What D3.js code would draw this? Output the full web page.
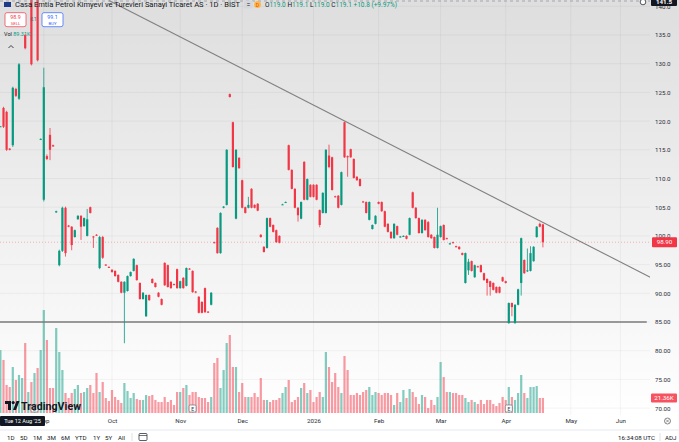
<!DOCTYPE html>
<html><head><meta charset="utf-8">
<script src="https://cdn.jsdelivr.net/npm/d3@7"></script>
<style>html,body{margin:0;padding:0;background:#fff;overflow:hidden}svg{display:block;font-family:Roboto,"Noto Sans",sans-serif}</style>
</head><body><svg id="c" width="679" height="442"></svg>
<script>
// ---------- DATA ----------
const opens=[119.0,122.3,121.6,115.2,115.8,125.6,123.9,141.5,135.0,142.5,
145.0,142.0,143.0,116.8,106.3,113.9,117.6,115.8,104.1,94.9,
97.4,104.9,101.8,101.6,99.8,102.9,103.5,101.7,100.0,105.0,
99.9,100.2,94.4,99.8,95.0,94.6,94.1,93.9,93.2,92.0,
90.1,90.4,93.0,93.9,94.9,91.8,89.0,86.0,89.7,92.5,
91.8,90.1,89.0,95.3,94.9,92.0,91.6,94.2,90.9,92.7,
91.3,94.3,93.9,90.3,89.4,88.5,90.9,86.8,88.0,98.9,
101.4,97.0,104.9,105.4,124.7,119.8,103.0,113.6,109.7,105.0,
104.9,108.2,105.4,105.6,100.2,98.1,97.9,103.1,101.9,101.0,
100.0,105.4,105.9,115.8,111.5,108.2,104.9,103.0,112.9,106.3,
108.9,108.9,108.9,104.5,104.0,104.0,114.0,113.7,106.9,107.0,
105.4,119.8,113.9,115.1,113.4,110.3,109.9,106.0,105.9,102.8,
101.2,102.1,105.9,105.9,104.3,102.1,100.7,99.6,101.7,99.8,
99.9,100.0,100.2,107.6,104.9,103.1,100.5,102.8,102.4,100.2,
99.8,97.9,99.8,101.9,99.6,98.6,98.9,98.2,98.1,97.0,
91.8,94.0,95.6,92.8,94.7,94.9,93.5,92.5,92.1,91.8,
91.1,91.1,92.8,92.1,84.8,88.3,84.8,88.0,91.8,95.8,
93.9,93.9,95.6,99.8,102.1,102.0];
const highs=[119.1,122.5,121.8,115.3,126.0,125.8,130.1,143.5,135.2,145.0,
146.0,143.5,144.0,117.0,129.3,114.2,118.8,115.9,104.4,97.6,
105.1,105.1,101.9,101.7,101.1,103.6,103.6,103.2,104.7,105.1,
100.0,100.3,100.0,100.0,95.1,94.7,94.2,94.0,93.3,92.1,
92.1,93.1,93.8,96.1,95.0,91.9,90.2,89.8,89.8,92.6,
91.9,90.2,89.1,95.4,95.0,92.1,91.7,94.3,92.2,92.8,
94.5,94.4,94.0,90.4,89.5,88.6,91.0,86.9,90.2,99.0,
101.5,104.1,105.2,115.1,124.8,119.9,115.1,113.7,109.8,105.1,
106.8,108.3,105.5,105.7,100.3,98.2,103.2,103.2,102.0,101.1,
100.1,105.6,106.0,115.9,111.6,108.3,105.0,106.0,113.0,110.0,
109.0,109.0,109.0,104.6,107.6,115.1,115.9,113.8,107.0,107.1,
111.2,119.9,114.0,115.2,113.5,110.4,110.0,106.1,106.0,106.0,
102.0,103.6,106.0,106.0,104.4,102.2,100.8,102.2,101.8,100.0,
100.1,100.1,103.2,107.7,105.0,103.2,102.9,102.9,102.6,100.3,
99.9,104.9,101.8,102.0,99.7,98.8,99.0,98.3,98.2,97.1,
97.1,96.0,95.7,95.0,94.8,95.0,93.6,92.6,92.2,91.9,
91.2,91.2,92.9,92.2,88.4,88.4,88.1,90.8,99.7,95.9,
97.8,98.2,98.2,101.7,102.3,102.1];
const lows=[119.0,118.8,114.8,114.9,115.5,124.2,123.7,141.3,132.5,142.0,
129.7,141.5,130.4,116.7,106.0,113.2,113.2,115.5,104.0,94.7,
97.2,96.4,101.5,97.5,99.7,102.8,99.3,101.6,99.9,103.9,
97.9,100.0,94.2,96.0,94.8,94.4,93.6,92.9,91.9,90.0,
81.3,90.3,92.9,93.8,92.2,88.9,88.9,85.9,88.7,91.7,
91.0,89.3,87.9,91.3,91.0,90.8,91.4,90.8,90.8,90.8,
91.2,94.1,90.1,90.0,86.5,86.5,86.6,86.6,87.9,98.7,
96.9,96.9,104.8,105.3,124.1,111.9,102.9,111.7,104.8,103.9,
104.8,104.8,104.8,104.3,99.7,97.1,97.8,101.5,100.6,98.8,
98.7,105.4,105.8,111.4,108.1,104.8,102.5,102.9,106.2,106.2,
106.7,106.7,106.2,101.5,103.9,103.9,111.8,107.9,106.7,104.8,
105.3,113.6,110.3,113.6,110.0,109.6,108.6,105.8,103.9,102.7,
101.1,102.0,105.5,104.2,101.5,100.6,99.5,99.5,100.1,99.7,
99.8,99.4,100.1,104.8,103.0,100.4,100.4,100.9,99.7,99.5,
97.8,97.8,99.7,99.2,99.4,98.5,98.7,98.0,97.6,96.6,
91.7,93.2,93.8,92.7,94.5,93.6,92.2,89.6,89.6,90.5,
90.0,90.0,92.0,91.7,84.7,86.0,84.7,87.9,89.6,93.4,
93.7,93.8,95.5,99.7,101.5,98.0];
const closes=[119.1,119.0,115.0,115.0,125.8,124.4,129.9,143.0,132.7,144.0,
129.9,143.0,130.6,116.9,125.9,113.4,115.0,115.6,104.3,97.4,
104.9,97.0,101.6,98.4,101.0,103.5,101.6,103.1,102.9,104.0,
99.8,100.1,99.8,96.2,94.9,94.5,93.7,93.0,92.0,90.1,
92.0,93.0,93.7,96.0,92.3,89.0,90.1,89.7,88.8,91.8,
91.1,89.4,88.0,91.4,91.1,90.9,91.5,90.9,92.1,90.9,
94.4,94.2,90.2,90.2,86.6,86.6,86.7,86.7,90.1,98.8,
97.0,104.0,105.1,115.0,124.2,112.0,115.0,111.8,104.9,104.0,
105.4,104.9,104.9,104.4,99.8,97.2,103.1,101.6,100.7,98.9,
98.8,105.5,105.9,111.5,108.2,104.9,103.6,105.9,106.3,109.9,
106.8,106.8,106.3,101.9,107.5,115.0,112.0,108.0,106.8,104.9,
111.1,113.7,113.7,113.7,110.1,109.7,108.7,105.9,104.0,105.9,
101.9,103.5,105.6,104.3,101.6,100.7,99.6,102.1,100.2,99.9,
100.0,99.5,103.1,104.9,103.1,100.5,102.8,101.0,99.8,99.6,
97.9,100.2,101.7,99.3,99.5,98.7,98.8,98.1,97.7,96.7,
97.0,95.5,93.9,94.9,94.6,93.7,92.3,91.8,91.1,90.6,
90.1,90.1,92.1,91.8,88.3,87.6,88.0,90.7,99.6,93.5,
94.0,97.0,98.1,101.6,101.6,98.9];
const volumesK=[89.31,75.3,39.8,36.9,65.3,46.9,54.0,49.7,99.4,29.8,
44.0,56.8,63.9,89.5,146.3,103.7,35.5,35.5,120.7,86.6,
61.1,28.4,21.3,28.4,34.1,39.8,28.4,29.8,35.5,39.8,
28.4,56.8,29.8,44.0,21.3,17.0,32.7,22.7,18.5,14.2,
42.6,31.2,21.3,28.4,19.9,18.5,18.5,25.6,24.1,25.6,
18.5,15.6,15.6,22.7,15.6,18.5,11.4,29.8,29.8,35.5,
39.8,25.6,29.8,29.8,22.7,21.3,21.3,15.6,22.7,71.0,
78.1,35.5,61.1,99.4,110.8,65.3,65.3,29.8,42.6,22.7,
22.7,22.7,28.4,22.7,49.7,18.5,18.5,15.6,18.5,18.5,
21.3,28.4,36.9,46.9,15.6,18.5,22.7,35.5,42.6,28.4,
32.7,15.6,22.7,29.8,22.7,86.6,65.3,44.0,56.8,36.9,
28.4,80.9,61.1,25.6,25.6,28.4,25.6,29.8,32.7,36.9,
25.6,29.8,28.4,25.6,28.4,28.4,25.6,11.4,28.4,15.6,
32.7,21.3,34.1,29.8,22.7,12.8,25.6,22.7,7.1,18.5,
11.4,22.7,72.4,51.1,29.8,29.8,28.4,28.4,25.6,25.6,
21.3,15.6,18.5,15.6,12.8,18.5,12.8,18.5,18.5,12.8,
9.9,14.2,22.7,18.5,36.9,22.7,18.5,28.4,54.0,28.4,
21.3,36.9,36.9,38.3,21.3,21.36];
const holidays=["2025-10-29","2026-01-01","2026-03-20","2026-04-23","2026-05-01","2026-05-19","2026-05-27","2026-05-28","2026-05-29"];
const priceTicks=[140,135,130,125,120,115,110,105,100,95,90,85,80,75,70];
const monthNames=["Jan","Feb","Mar","Apr","May","Jun","Jul","Aug","Sep","Oct","Nov","Dec"];
const trendIdx=[35,210], trendPrice=[141.0,92.7];
const supportPrice=85, supportIdx=[-2,208.5];
const lastPrice=98.90, lastVolLabel="21.36K";
const earningsIdx=[11,62,164];
const crossPrice="141.5";
const title="Casa Emtia Petrol Kimyevi ve Turevleri Sanayi Ticaret AS · 1D · BIST";
const rangeButtons=["1D","5D","1M","3M","6M","YTD","1Y","5Y","All"];

// ---------- CALENDAR ----------
const hol=new Set(holidays);
const dates=[];
{let d=new Date(Date.UTC(2025,7,12));const end=Date.UTC(2026,5,30);
 while(d.getTime()<=end){const wd=d.getUTCDay();const s=d.toISOString().slice(0,10);
  if(wd>0&&wd<6&&!hol.has(s))dates.push(new Date(d));d.setUTCDate(d.getUTCDate()+1);}}
const monthTicks=[];
dates.forEach((d,i)=>{if(i>0&&d.getUTCMonth()!==dates[i-1].getUTCMonth())monthTicks.push(i);});
const monthLabel=i=>{const d=dates[i];return d.getUTCMonth()===0?String(d.getUTCFullYear()):monthNames[d.getUTCMonth()];};

// ---------- SCALES ----------
const W=679,H=442,plotW=650,plotH=415;
const x=d3.scaleLinear().domain([0,200]).range([0.4,620.4]);
const y=d3.scaleLinear().domain([85,140]).range([322,6.3]);
const yv=d3.scaleLinear().domain([0,146.3]).range([413,310]);
const UP="#089981",DN="#f23645",UPV="rgba(8,153,129,0.5)",DNV="rgba(242,54,69,0.5)";

const svg=d3.select("#c");
const defs=svg.append("defs");
const gr=defs.append("linearGradient").attr("id","bg").attr("x1",0).attr("y1",0).attr("x2",0).attr("y2",1);
gr.append("stop").attr("offset","0%").attr("stop-color","#dedede");
gr.append("stop").attr("offset","100%").attr("stop-color","#ffffff");
defs.append("clipPath").attr("id","clip").append("rect").attr("width",plotW).attr("height",plotH);
svg.append("rect").attr("width",W).attr("height",416).attr("fill","url(#bg)");
svg.append("rect").attr("y",416).attr("width",W).attr("height",26).attr("fill","#fff");

// grid
const grid=svg.append("g").attr("clip-path","url(#clip)");
grid.selectAll(".hg").data(priceTicks).join("line").attr("x1",0).attr("x2",plotW)
 .attr("y1",d=>y(d)).attr("y2",d=>y(d)).attr("stroke","rgba(0,0,0,0.045)").attr("stroke-width",1);
grid.selectAll(".vg").data(monthTicks).join("line").attr("y1",0).attr("y2",plotH)
 .attr("x1",i=>x(i)).attr("x2",i=>x(i)).attr("stroke","rgba(0,0,0,0.045)").attr("stroke-width",1);

const plot=svg.append("g").attr("clip-path","url(#clip)");
const data=closes.map((c,i)=>({i,o:opens[i],h:highs[i],l:lows[i],c,v:volumesK[i]}));
// volume
plot.selectAll(".vol").data(data).join("rect")
 .attr("x",d=>x(d.i)-1.1).attr("width",2.2)
 .attr("y",d=>yv(d.v)).attr("height",d=>yv(0)-yv(d.v))
 .attr("fill",d=>d.c>=d.o?UPV:DNV);
// support & trend lines
plot.append("line").attr("x1",x(supportIdx[0])).attr("x2",x(supportIdx[1]))
 .attr("y1",y(supportPrice)).attr("y2",y(supportPrice)).attr("stroke","#7b7b7b").attr("stroke-width",1.6);
plot.append("line").attr("x1",x(trendIdx[0])).attr("x2",x(trendIdx[1]))
 .attr("y1",y(trendPrice[0])).attr("y2",y(trendPrice[1])).attr("stroke","#808080").attr("stroke-width",1.1);
// last price line
plot.append("line").attr("x1",0).attr("x2",plotW).attr("y1",y(lastPrice)).attr("y2",y(lastPrice))
 .attr("stroke","rgba(242,54,69,0.35)").attr("stroke-dasharray","1,2").attr("stroke-width",1);
// crosshair line top
svg.append("line").attr("x1",0).attr("x2",plotW).attr("y1",1).attr("y2",1)
 .attr("stroke","#9598a1").attr("stroke-dasharray","3,3").attr("stroke-width",0.8);
// candles
const cg=plot.append("g");
cg.selectAll(".wick").data(data).join("line")
 .attr("x1",d=>x(d.i)).attr("x2",d=>x(d.i)).attr("y1",d=>y(d.h)).attr("y2",d=>y(d.l))
 .attr("stroke",d=>d.c>=d.o?UP:DN).attr("stroke-width",0.8);
cg.selectAll(".body").data(data).join("rect")
 .attr("x",d=>x(d.i)-1.1).attr("width",2.2)
 .attr("y",d=>y(Math.max(d.o,d.c))).attr("height",d=>Math.max(1,Math.abs(y(d.o)-y(d.c))))
 .attr("fill",d=>d.c>=d.o?UP:DN);

// earnings markers
const eg=svg.selectAll(".earn").data(earningsIdx).join("g").attr("transform",i=>`translate(${x(i)},408.5)`);
eg.append("rect").attr("x",-3.5).attr("y",-3.5).attr("width",7).attr("height",7).attr("rx",1.2)
 .attr("fill","#fff").attr("stroke","#6a6d78").attr("stroke-width",0.7);
eg.append("text").attr("text-anchor","middle").attr("y",2).attr("font-size",5).attr("fill","#333").text("E");

// price axis
const ax=svg.append("g").attr("transform","translate(655,0)")
 .call(d3.axisRight(y).tickValues(priceTicks).tickSize(0).tickPadding(0)
 .tickFormat(d=>d>=100?d.toFixed(1):d.toFixed(2)));
ax.select(".domain").remove();
ax.selectAll("text").attr("font-size",6.2).attr("fill","#2a2e39").attr("font-family","Roboto,sans-serif");

// time axis
const tx=svg.append("g").attr("transform","translate(0,416)")
 .call(d3.axisBottom(x).tickValues(monthTicks).tickSize(0).tickPadding(3).tickFormat(monthLabel));
tx.select(".domain").remove();
tx.selectAll("text").attr("font-size",6.2).attr("fill","#2a2e39").attr("font-family","Roboto,sans-serif");

// last price label
const lp=svg.append("g").attr("transform",`translate(652,${y(lastPrice)})`);
lp.append("rect").attr("x",0).attr("y",-5).attr("width",25).attr("height",10).attr("rx",1).attr("fill",DN);
lp.append("text").attr("x",12.5).attr("y",2.2).attr("text-anchor","middle").attr("font-size",6.2).attr("fill","#fff").text(lastPrice.toFixed(2));
const lv=svg.append("g").attr("transform",`translate(651,${yv(volumesK[volumesK.length-1])})`);
lv.append("rect").attr("x",0).attr("y",-4.5).attr("width",26).attr("height",9).attr("rx",1).attr("fill","#f7525f");
lv.append("text").attr("x",13).attr("y",2.2).attr("text-anchor","middle").attr("font-size",6.2).attr("fill","#fff").text(lastVolLabel);
// crosshair price label
const cp=svg.append("g");
cp.append("rect").attr("x",651).attr("y",-3).attr("width",26).attr("height",9).attr("rx",1).attr("fill","#131722");
cp.append("text").attr("x",664).attr("y",4).attr("text-anchor","middle").attr("font-size",6.2).attr("fill","#fff").attr("font-weight","bold").text(crossPrice);
cp.append("circle").attr("cx",643).attr("cy",2).attr("r",2.8).attr("fill","#fff").attr("stroke","#131722").attr("stroke-width",0.7);

// header
svg.append("path").attr("d","M4,2 h7 v5 h-7 z").attr("fill","#1e3a8a");
svg.append("text").attr("x",15).attr("y",7).attr("font-size",7).attr("fill","#131722")
 .attr("textLength",225).attr("lengthAdjust","spacingAndGlyphs").text(title);
svg.append("rect").attr("x",244).attr("y",0.5).attr("width",9).attr("height",8).attr("rx",1.5).attr("fill","#d5d7dd");
svg.append("text").attr("x",248.5).attr("y",7).attr("text-anchor","middle").attr("font-size",7).attr("fill","#131722").text("=");
svg.append("circle").attr("cx",257.5).attr("cy",4.5).attr("r",3.5).attr("fill","#ffb74d");
svg.append("text").attr("x",257.5).attr("y",6.6).attr("text-anchor","middle").attr("font-size",5).attr("fill","#e65100").text("D");
const oh=svg.append("text").attr("x",265).attr("y",7).attr("font-size",6.5).attr("textLength",132).attr("lengthAdjust","spacingAndGlyphs");
[["O","#131722"],["119.0","#089981"],[" H","#131722"],["119.1","#089981"],[" L","#131722"],["119.0","#089981"],[" C","#131722"],["119.1 +10.8 (+9.97%)","#089981"]]
 .forEach(([t,c])=>oh.append("tspan").attr("fill",c).text(t));
// sell / buy
function pbox(x0,col,price,lab){
 svg.append("rect").attr("x",x0).attr("y",12.7).attr("width",21).attr("height",14).attr("rx",2).attr("fill","#fff").attr("stroke",col).attr("stroke-width",0.7);
 svg.append("text").attr("x",x0+10.5).attr("y",18.5).attr("text-anchor","middle").attr("font-size",5.3).attr("fill",col).text(price);
 svg.append("text").attr("x",x0+10.5).attr("y",24.5).attr("text-anchor","middle").attr("font-size",4.3).attr("fill",col).text(lab);
}
pbox(5,"#f23645","98.9","SELL");pbox(42,"#2962ff","99.1","BUY");
svg.append("text").attr("x",33.5).attr("y",21).attr("text-anchor","middle").attr("font-size",4.5).attr("fill","#555").text("0.1");
const vt=svg.append("text").attr("x",4).attr("y",36).attr("font-size",5.5);
vt.append("tspan").attr("fill","#131722").text("Vol ");
vt.append("tspan").attr("fill","#089981").text("89.31K");
svg.append("path").attr("d","M8.5,48 L11,45.5 L13.5,48").attr("fill","none").attr("stroke","#131722").attr("stroke-width",0.8);

// TradingView logo
const lg=svg.append("g").attr("transform","translate(5,401)");
lg.append("path").attr("d","M0,0 h6 v9 h-3 v-6 h-3 z").attr("fill","#131722");
lg.append("circle").attr("cx",8.2).attr("cy",1.6).attr("r",1.6).attr("fill","#131722");
lg.append("path").attr("d","M8,9 L11.5,0 H14.5 L11,9 Z").attr("fill","#131722");
lg.append("text").attr("x",16).attr("y",8.6).attr("font-size",10).attr("font-weight","bold").attr("fill","#131722")
 .attr("textLength",60).attr("lengthAdjust","spacingAndGlyphs").text("TradingView");

// crosshair date label
svg.append("rect").attr("x",0).attr("y",416).attr("width",45).attr("height",10).attr("rx",1).attr("fill","#131722");
svg.append("text").attr("x",22.5).attr("y",423).attr("text-anchor","middle").attr("font-size",5.6).attr("fill","#fff").text("Tue 12 Aug '25");

// bottom toolbar
svg.append("line").attr("x1",0).attr("x2",W).attr("y1",430).attr("y2",430).attr("stroke","#e0e3eb").attr("stroke-width",0.8);
const bx=[7,20,33,47,61,75,93,105,118];
svg.selectAll(".rb").data(rangeButtons).join("text").attr("x",(d,i)=>bx[i]).attr("y",439.5)
 .attr("font-size",6.2).attr("fill","#131722").text(d=>d);
svg.append("line").attr("x1",132).attr("x2",132).attr("y1",433).attr("y2",441).attr("stroke","#d1d4dc").attr("stroke-width",0.7);
svg.append("rect").attr("x",139).attr("y",433.5).attr("width",8).attr("height",7).attr("rx",1).attr("fill","none").attr("stroke","#131722").attr("stroke-width",0.7);
svg.append("line").attr("x1",139).attr("x2",147).attr("y1",435.5).attr("y2",435.5).attr("stroke","#131722").attr("stroke-width",0.6);
svg.append("text").attr("x",655).attr("y",439.5).attr("text-anchor","end").attr("font-size",6.2).attr("fill","#131722").text("16:34:08 UTC");
svg.append("line").attr("x1",660).attr("x2",660).attr("y1",433).attr("y2",441).attr("stroke","#d1d4dc").attr("stroke-width",0.7);
svg.append("text").attr("x",665).attr("y",439.5).attr("font-size",6.2).attr("fill","#131722").text("ADJ");
svg.append("circle").attr("cx",667.5).attr("cy",421).attr("r",3).attr("fill","none").attr("stroke","#555").attr("stroke-width",0.7);
svg.append("path").attr("d","M666,419.5 L669,422.5 M669,419.5 L666,422.5").attr("stroke","#555").attr("stroke-width",0.6);
</script></body></html>
